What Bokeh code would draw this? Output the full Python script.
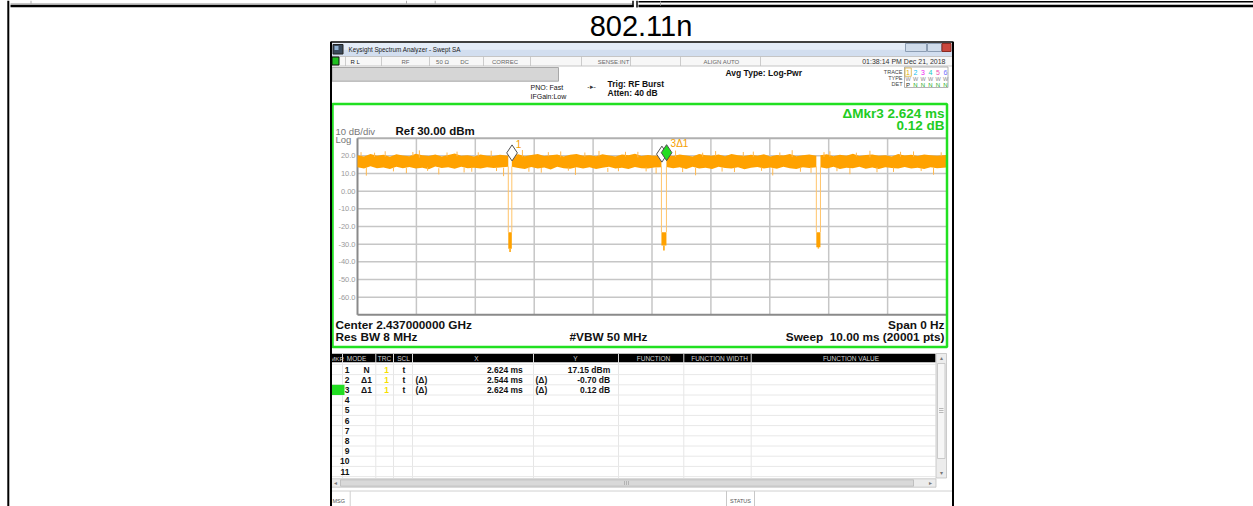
from bokeh.plotting import figure
from bokeh.models import Range1d
from bokeh.core.properties import value
from bokeh.embed import file_html
from bokeh.resources import INLINE

# ------------------------------------------------------------------ data
TITLE = "802.11n"
TIME_GRID = [1, 2, 3, 4, 5, 6, 7, 8, 9]
DB_GRID = [20, 10, 0, -10, -20, -30, -40, -50, -60]
DB_LABELS = ["20.0", "10.0", "0.00", "-10.0", "-20.0", "-30.0", "-40.0", "-50.0", "-60.0"]

# noise band envelopes (ms, dBm), one list per burst between the gaps
tA = [0.00, 0.11, 0.22, 0.33, 0.44, 0.55, 0.66, 0.77, 0.88, 0.99, 1.10, 1.21, 1.32, 1.43, 1.54, 1.65, 1.76, 1.87, 1.98, 2.09, 2.20, 2.31, 2.42, 2.56]
upA = [20.4, 19.7, 21.0, 20.1, 20.6, 19.5, 20.9, 20.2, 19.8, 21.2, 20.3, 19.9, 20.7, 19.6, 20.5, 21.3, 20.0, 20.4, 19.7, 20.8, 20.1, 19.9, 20.6, 20.0]
loA = [13.6, 12.8, 14.1, 13.0, 13.4, 12.5, 13.8, 13.0, 13.7, 12.9, 13.3, 12.4, 14.0, 13.1, 13.5, 12.7, 13.9, 13.0, 13.2, 12.8, 13.6, 13.1, 13.4, 13.8]
tB = [2.62, 2.73, 2.84, 2.95, 3.06, 3.17, 3.28, 3.39, 3.50, 3.61, 3.72, 3.83, 3.94, 4.05, 4.16, 4.27, 4.38, 4.49, 4.60, 4.71, 4.82, 4.93, 5.04, 5.16]
upB = [20.2, 20.9, 19.8, 20.5, 21.1, 19.9, 20.3, 20.8, 19.6, 20.6, 21.0, 20.0, 20.4, 19.8, 20.9, 20.2, 19.7, 20.7, 20.3, 21.2, 19.9, 20.5, 20.1, 20.4]
loB = [13.9, 13.1, 12.6, 13.7, 12.9, 13.4, 12.3, 13.8, 13.0, 12.7, 13.5, 12.9, 13.6, 12.5, 13.2, 13.9, 12.8, 13.3, 12.6, 13.7, 13.0, 12.8, 13.4, 13.6]
tC = [5.245, 5.36, 5.47, 5.58, 5.69, 5.80, 5.91, 6.02, 6.13, 6.24, 6.35, 6.46, 6.57, 6.68, 6.79, 6.90, 7.01, 7.12, 7.23, 7.34, 7.45, 7.56, 7.67, 7.79]
upC = [20.5, 19.9, 20.8, 20.2, 19.6, 21.0, 20.4, 20.0, 20.7, 19.8, 21.1, 20.3, 19.9, 20.6, 20.1, 20.9, 19.7, 20.5, 20.2, 21.0, 19.8, 20.4, 20.7, 20.1]
loC = [13.7, 13.0, 13.5, 12.6, 13.9, 12.9, 13.3, 12.5, 13.8, 13.1, 12.8, 13.6, 12.4, 13.2, 13.7, 12.9, 13.4, 12.7, 13.9, 13.0, 12.6, 13.5, 13.1, 13.6]
tD = [7.86, 7.97, 8.08, 8.19, 8.30, 8.41, 8.52, 8.63, 8.74, 8.85, 8.96, 9.07, 9.18, 9.29, 9.40, 9.51, 9.62, 9.73, 9.84, 10.0]
upD = [20.3, 20.9, 19.8, 20.6, 20.1, 21.2, 19.9, 20.5, 20.8, 20.0, 20.4, 19.7, 21.0, 20.2, 20.6, 19.9, 20.8, 20.3, 20.0, 20.5]
loD = [13.5, 12.9, 13.8, 12.6, 13.3, 13.0, 13.9, 12.7, 13.4, 12.5, 13.6, 13.1, 12.8, 13.7, 12.9, 13.3, 12.6, 13.5, 13.0, 13.4]

# individual noise excursions outside the band (ms, from dBm, to dBm)
spike_t = [0.06, 0.15, 0.29, 0.47, 0.61, 0.83, 0.94, 1.05, 1.19, 1.38, 1.52, 1.69, 1.81, 1.94, 2.05, 2.27, 2.36, 2.48,
           2.69, 2.80, 2.91, 3.12, 3.24, 3.45, 3.58, 3.70, 3.86, 4.10, 4.25, 4.43, 4.55, 4.76, 4.90, 5.07,
           5.31, 5.40, 5.52, 5.74, 5.86, 6.08, 6.19, 6.40, 6.55, 6.72, 6.86, 7.05, 7.17, 7.38, 7.52, 7.70,
           7.92, 8.02, 8.14, 8.36, 8.47, 8.70, 8.82, 9.10, 9.22, 9.44, 9.57, 9.78, 9.91]
spike_lo = [19.8, 8.8, 19.4, 19.5, 11.2, 10.2, 19.9, 19.0, 11.5, 9.5, 19.6, 19.8, 10.6, 11.0, 19.7, 19.3, 11.4, 8.5,
            19.5, 19.6, 11.0, 10.5, 19.8, 19.2, 11.6, 9.2, 19.4, 19.7, 10.9, 11.3, 19.6, 19.1, 11.2, 10.0,
            19.7, 19.4, 10.8, 9.0, 19.5, 19.8, 11.1, 10.8, 19.6, 19.5, 11.5, 8.9, 19.8, 19.3, 11.0, 10.4,
            19.4, 19.6, 11.3, 9.6, 19.7, 19.2, 10.7, 10.9, 19.5, 19.5, 11.4, 9.3, 19.8]
spike_hi = [22.1, 13.5, 21.8, 22.6, 13.4, 13.2, 22.2, 23.1, 13.6, 13.0, 21.9, 22.4, 13.3, 13.4, 22.0, 22.9, 13.5, 13.3,
            21.8, 23.3, 13.6, 13.1, 22.1, 22.5, 13.4, 13.6, 21.9, 22.8, 13.2, 13.2, 22.3, 22.3, 13.5, 13.4,
            22.0, 23.0, 13.3, 13.1, 21.8, 22.7, 13.6, 13.3, 22.2, 22.4, 13.4, 13.0, 21.9, 23.2, 13.5, 13.5,
            22.1, 22.6, 13.3, 13.2, 21.8, 22.9, 13.6, 13.4, 22.3, 22.5, 13.2, 13.1, 22.0]

dip_start = [2.56, 5.16, 7.79]
dip_end = [2.62, 5.245, 7.86]
dip_from = [14.0, 14.0, 14.0]
dip_top = [-23.2, -23.2, -23.2]
dip_bottom = [-32.6, -30.8, -31.7]
dip_tail = [-34.5, -33.6, -32.5]

mkr_t = [2.624, 5.168, 5.248]
mkr_db = [17.15, 16.45, 17.27]
mkr_fill = ["white", "white", "#22dd22"]

tbl_num = ["1", "2", "3", "4", "5", "6", "7", "8", "9", "10", "11"]
tbl_mode = ["N", "Δ1", "Δ1"]
tbl_trc = ["1", "1", "1"]
tbl_scl = ["t", "t", "t"]
tbl_xpre = ["", "(Δ)", "(Δ)"]
tbl_x = ["2.624 ms", "2.544 ms", "2.624 ms"]
tbl_ypre = ["", "(Δ)", "(Δ)"]
tbl_y = ["17.15 dBm", "-0.70 dB", "0.12 dB"]
tbl_head = ["MKR", "MODE", "TRC", "SCL", "X", "Y", "FUNCTION", "FUNCTION WIDTH", "FUNCTION VALUE"]

# ------------------------------------------------------------------ figure
W, H = 1253, 506
p = figure(width=W, height=H, x_range=Range1d(0, W), y_range=Range1d(H, 0),
           x_axis_location=None, y_axis_location=None, toolbar_location=None,
           output_backend="svg", min_border=0, outline_line_color=None)
p.grid.visible = False
p.background_fill_color = "white"
p.border_fill_color = "white"

# graticule placement (pixels) and scale ranges for trace data
GX0, GX1 = 357.0, 946.0
GY0, GY1 = 137.7, 314.3
ppm = (GX1 - GX0) / 10.0
ppd = (GY1 - GY0) / 100.0
p.extra_x_ranges = {"t": Range1d(-GX0 / ppm, (W - GX0) / ppm)}
p.extra_y_ranges = {"db": Range1d(30 - (H - GY0) / ppd, 30 + GY0 / ppd)}
TD = dict(x_range_name="t", y_range_name="db")

FONT = "Liberation Sans"


def T(x, y, s, size, color="#111111", bold=False, align="left"):
    p.text(x=[x], y=[y], text=[s], text_font=value(FONT),
           text_font_size=f"{size}px", text_color=color,
           text_font_style="bold" if bold else "normal",
           text_align=align, text_baseline="alphabetic")


def Q(l, t, r, b, fill, line=None, lw=1):
    p.quad(left=[l], right=[r], top=[t], bottom=[b], fill_color=fill,
           line_color=line, line_width=lw)


def S(x0, y0, x1, y1, color, w=1):
    p.segment(x0=[x0], y0=[y0], x1=[x1], y1=[y1], line_color=color, line_width=w)


# page frame (table edge at top, left rule)
S(10, 3.3, 632, 3.3, "#b0b0b0", 1)
S(10, 5.6, 633, 5.6, "black", 2.5)
S(638, 1.2, 1253, 1.2, "black", 1.5)
S(638, 5.6, 1253, 5.6, "black", 2.5)
S(30.5, 0, 30.5, 4, "#b0b0b0", 1)
S(406, 0, 406, 4, "#b0b0b0", 1)
S(434.7, 0, 434.7, 4, "#b0b0b0", 1)
S(660, 1, 660, 5, "#b0b0b0", 1)
S(632.5, 0, 632.5, 6.5, "black", 1.5)
S(636.5, 0, 636.5, 7, "black", 1.5)
S(7.8, 0, 7.8, 506, "black", 2)
T(640.5, 25.5, TITLE, 29, "black", align="center")

# screenshot background / title bar
Q(330, 41.5, 953, 506, "white")
Q(331, 42.5, 952, 49, "#e4ecf7")
Q(331, 49, 952, 55.5, "#d2deef")
Q(332.5, 44, 342.5, 53.5, "#3a4a5c", "#222222")
Q(334, 45.5, 338, 49.5, "#8fb0d0")
T(348, 48.5, "Keysight Spectrum Analyzer - Swept SA", 6.3, "#1a1a1a")
Q(905, 43, 926, 51, "#cfdbea", "#8c9db3")
Q(927, 43, 941, 51, "#cfdbea", "#8c9db3")
Q(941.5, 43, 950.5, 51, "#c9473d", "#8a2a22")

# status row
Q(331, 56, 952, 65.5, "#f7f7f7", "#b8b8b8", 0.8)
for sx in [345, 381, 429, 483, 530, 581, 630, 680, 760]:
    S(sx, 56, sx, 65.5, "#c0c0c0", 0.8)
Q(331.5, 56.5, 338.5, 64.5, "#1fbf1f", "#111111")
T(350, 61, "R L", 6, "#222222")
T(405, 61, "RF", 6, "#666666", align="center")
T(442, 61, "50 Ω", 6, "#666666", align="center")
T(464, 61, "DC", 6, "#666666", align="center")
T(504.5, 61, "CORREC", 6, "#666666", align="center")
T(613, 61, "SENSE:INT", 6, "#666666", align="center")
T(721, 61, "ALIGN AUTO", 6, "#666666", align="center")
T(945, 61, "01:38:14 PM Dec 21, 2018", 7, "#333333", align="right")

# settings area
Q(331.5, 67, 558, 80.7, "#d6d6d6", "#a8a8a8")
T(530, 86.5, "PNO: Fast", 7, "#111111")
T(530, 95.5, "IFGain:Low", 7, "#111111")
T(591, 86, "-▸-", 7, "#333333", align="center")
T(607, 83, "Trig: RF Burst", 8.5, "#111111", bold=True)
T(607, 92, "Atten: 40 dB", 8.5, "#111111", bold=True)
T(725, 72, "Avg Type: Log-Pwr", 8.5, "#111111", bold=True)
T(902, 71.5, "TRACE", 5.5, "#444444", align="right")
T(902, 77.7, "TYPE", 5.5, "#444444", align="right")
T(902, 83.5, "DET", 5.5, "#444444", align="right")
Q(904, 66.5, 947.5, 87, None, "#a0a0a0", 0.8)
Q(904.5, 67.5, 910.8, 75.8, None, "#d8b040", 0.8)
trace_cols = ["#e0b000", "#10c0f0", "#f020f0", "#20c8c0", "#f050b0", "#7070ff"]
for i, c in enumerate(trace_cols):
    T(907.5 + i * 7.5, 71.5, str(i + 1), 7, c, align="center")
    T(907.5 + i * 7.5, 78, "W", 5.5, "#888888", align="center")
    T(907.5 + i * 7.5, 84, "P" if i == 0 else "N", 6, "#222222" if i == 0 else "#22aa22", align="center")

# display texts
T(944, 112.7, "ΔMkr3 2.624 ms", 13.5, "#22cc22", bold=True, align="right")
T(944, 125, "0.12 dB", 13.5, "#22cc22", bold=True, align="right")
T(335, 130.7, "10 dB/div", 9.5, "#777777")
T(335, 139, "Log", 9.5, "#777777")
T(395, 130, "Ref 30.00 dBm", 11.5, "#111111", bold=True)
T(335, 324, "Center 2.437000000 GHz", 11.8, "#111111", bold=True)
T(335, 336.7, "Res BW 8 MHz", 11.8, "#111111", bold=True)
T(569, 336.7, "#VBW 50 MHz", 11.8, "#111111", bold=True)
T(944, 324, "Span 0 Hz", 11.8, "#111111", bold=True, align="right")
T(944, 336.7, "Sweep\u00a0\u00a010.00 ms (20001 pts)", 11.8, "#111111", bold=True, align="right")

# graticule
p.segment(x0=TIME_GRID, x1=TIME_GRID, y0=[30] * len(TIME_GRID), y1=[-70] * len(TIME_GRID),
          line_color="#c6c6c6", line_width=1.5, **TD)
p.segment(x0=[0] * len(DB_GRID), x1=[10] * len(DB_GRID), y0=DB_GRID, y1=DB_GRID,
          line_color="#c6c6c6", line_width=1.5, **TD)
p.segment(x0=[0], x1=[10], y0=[30], y1=[30], line_color="#b0b0b0", line_width=2, **TD)
p.segment(x0=[0, 0], x1=[0, 10], y0=[30, -70], y1=[-70, -70], line_color="#8a8a8a", line_width=2, **TD)
p.text(x=[0] * len(DB_GRID), y=DB_GRID, text=DB_LABELS, x_offset=-2,
       text_align="right", text_baseline="alphabetic", text_font=value(FONT),
       text_font_size="7.5px", text_color="#9a9a9a", **TD)

# trace
ORANGE = "#ffa200"
LIGHT = "#ffc46a"
for ts, ups, los in [(tA, upA, loA), (tB, upB, loB), (tC, upC, loC), (tD, upD, loD)]:
    p.varea(x=ts, y1=los, y2=ups, fill_color=ORANGE, **TD)
p.segment(x0=spike_t, x1=spike_t, y0=spike_lo, y1=spike_hi, line_color="#ffb84d", line_width=1, **TD)
p.segment(x0=dip_start, x1=dip_start, y0=dip_from, y1=dip_top, line_color=LIGHT, line_width=1, **TD)
p.segment(x0=dip_end, x1=dip_end, y0=dip_from, y1=dip_top, line_color=LIGHT, line_width=1, **TD)
p.quad(left=dip_start, right=dip_end, top=dip_top, bottom=dip_bottom, fill_color=ORANGE,
       line_color=None, **TD)
dip_mid = [(a + b) / 2 for a, b in zip(dip_start, dip_end)]
p.segment(x0=dip_mid, x1=dip_mid, y0=dip_bottom, y1=dip_tail, line_color=ORANGE, line_width=1.5, **TD)

# markers
p.scatter(x=mkr_t, y=[d + 8 / ppd for d in mkr_db], marker="diamond", size=16,
          fill_color=mkr_fill, line_color="#505050", line_width=1, **TD)
p.text(x=[mkr_t[0]], y=[mkr_db[0]], text=["1"], x_offset=6.4, y_offset=-16.9,
       text_align="center", text_baseline="alphabetic", text_font=value(FONT),
       text_font_size="10px", text_color="#f5a000", **TD)
p.text(x=[mkr_t[2]], y=[mkr_db[2]], text=["3Δ1"], x_offset=4, y_offset=-16.7,
       text_align="left", text_baseline="alphabetic", text_font=value(FONT),
       text_font_size="10px", text_color="#f5a000", **TD)

# green display frame
Q(332, 103.5, 946.5, 346.5, None, "#21e021", 2.5)

# marker table
cols = [331, 342, 375.3, 393, 412, 533, 618, 683.3, 750.7, 935]
head_x = [336.5, 356, 384, 403, 476, 575, 653, 719, 850.5]
Q(331, 353.3, 935, 361.7, "black")
for cx in cols[1:-1]:
    S(cx, 353.3, cx, 361.7, "#d8d8d8", 1)
    S(cx, 361.7, cx, 477.5, "#e6e6e6", 1)
for hx, h in zip(head_x, tbl_head):
    T(hx, 357.5, h, 6.2 if h == "MKR" else 6.5, "#d0d0d0", align="center")
for i in range(12):
    yy = 363.9 + i * 10.2
    S(331, yy, 935, yy, "#e8e8e8", 1)
Q(331, 384.3, 344, 394.5, "#22dd22")
for i, n in enumerate(tbl_num):
    T(349, 369.1 + i * 10.2, n, 8.5, "#111111", bold=True, align="right")
for i in range(len(tbl_mode)):
    yc = 369.1 + i * 10.2
    T(366, yc, tbl_mode[i], 8.5, "#111111", bold=True, align="center")
    T(386, yc, tbl_trc[i], 8.5, "#f5e000", bold=True, align="center")
    T(403.5, yc, tbl_scl[i], 8.5, "#111111", bold=True, align="center")
    T(415, yc, tbl_xpre[i], 8.5, "#111111", bold=True)
    T(522.3, yc, tbl_x[i], 8.5, "#111111", bold=True, align="right")
    T(535, yc, tbl_ypre[i], 8.5, "#111111", bold=True)
    T(609.7, yc, tbl_y[i], 8.5, "#111111", bold=True, align="right")

# scroll bars
Q(935.5, 353, 946, 477.5, "#ececec", "#c0c0c0", 0.8)
Q(937, 363, 944.5, 458, "#f6f6f6", "#c0c0c0", 0.8)
T(940.7, 357.5, "▴", 6, "#777777", align="center")
T(940.7, 472, "▾", 6, "#777777", align="center")
for gy in [408, 410, 412]:
    S(938.5, gy, 943, gy, "#aaaaaa", 0.8)
Q(331, 478.3, 935.5, 486.7, "#ececec", "#c0c0c0", 0.8)
Q(340, 479.3, 913, 485.7, "#d9d9d9", "#b8b8b8", 0.8)
T(335, 482.5, "◂", 6, "#777777", align="center")
T(930, 482.5, "▸", 6, "#777777", align="center")
for gx in [624, 626, 628]:
    S(gx, 480.5, gx, 484.5, "#aaaaaa", 0.8)

# message / status line
S(331, 490.5, 952, 490.5, "#d0d0d0", 1)
S(349.7, 490.5, 349.7, 506, "#d0d0d0", 1)
S(726, 490.5, 726, 506, "#c8c8c8", 1)
S(754, 490.5, 754, 506, "#c8c8c8", 1)
T(332, 500.5, "MSG", 5.5, "#555555")
T(740, 500.5, "STATUS", 5.5, "#555555", align="center")

# screenshot border
S(330.5, 41.5, 330.5, 506, "black", 2)
S(952.5, 41.5, 952.5, 506, "black", 2)
S(330, 41.5, 953, 41.5, "black", 1.5)

open("out.html", "w").write(file_html(p, INLINE))
